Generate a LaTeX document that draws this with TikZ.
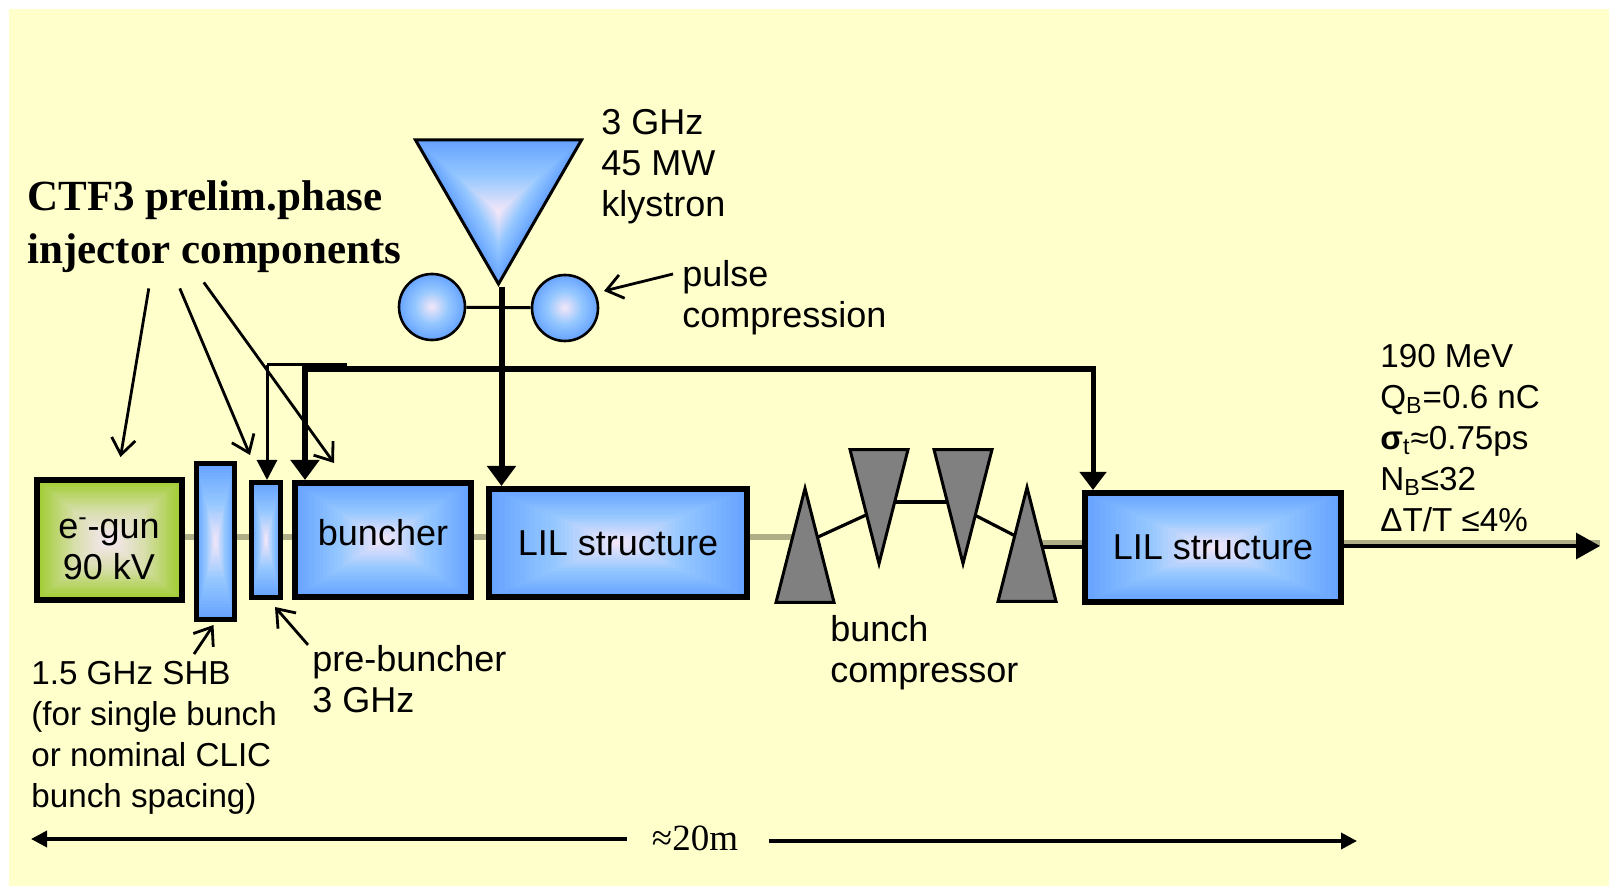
\documentclass[tikz,border=0pt]{standalone}
\usepackage{fontspec}
\setmainfont{Liberation Sans}
\newfontfamily\headfont{Liberation Serif}
\usetikzlibrary{arrows.meta,backgrounds,calc,shapes.geometric}
\definecolor{paper}{RGB}{255,255,204}
\definecolor{boxedge}{RGB}{102,163,255}
\definecolor{boxmid}{RGB}{150,200,255}
\definecolor{boxcentre}{RGB}{248,232,248}
\definecolor{gunedge}{RGB}{160,205,50}
\definecolor{gunmid}{RGB}{215,222,170}
\definecolor{beamtint}{RGB}{175,175,135}
\definecolor{wedge}{RGB}{128,128,128}
\newcommand{\fadefill}[3]{%
	\foreach \t [evaluate=\t as \m using int(2*(\t-50))] in {100,96,...,52} {\colorlet{tone}{#1!\m!#2}#3}%
	\foreach \t [evaluate=\t as \m using int(2*\t)] in {50,47,...,2} {\colorlet{tone}{#2!\m!boxcentre}#3}}
\def\rectlayer{\fill[tone] ($(path picture bounding box.center)!\t*0.01!(path picture bounding box.south west)$) rectangle ($(path picture bounding box.center)!\t*0.01!(path picture bounding box.north east)$);}
\def\trilayer{\fill[tone] ($(path picture bounding box.center)!\t*0.01!(path picture bounding box.north west)$)--($(path picture bounding box.center)!\t*0.01!(path picture bounding box.north east)$)--($(path picture bounding box.center)!\t*0.01!(path picture bounding box.south)$)--cycle;}
\def\circlayer{\fill[tone] (path picture bounding box.center) circle ({\t*0.34});}
\begin{document}
\begin{tikzpicture}[x=0.5pt, y=-0.5pt, line join=miter, font=\fontsize{18}{20.5}\selectfont,
		bluebox/.style={draw, rectangle, inner sep=0pt, path picture={\fadefill{boxedge}{boxmid}{\rectlayer}}},
		greenbox/.style={draw, rectangle, inner sep=0pt, path picture={\fadefill{gunedge}{gunmid}{\rectlayer}}},
		wedgeup/.style={draw, fill=wedge, line width=1.5pt, isosceles triangle, isosceles triangle apex angle=27, isosceles triangle stretches, inner sep=0pt, minimum width=29pt, minimum height=57pt, shape border rotate=90, anchor=apex},
		wedgedown/.style={wedgeup, shape border rotate=270},
		note/.style={anchor=west, align=left, inner sep=0pt},
		beamline/.style={beamtint, line width=3pt},
		wedgeline/.style={line width=1.6pt},
		rfline/.style={line width=3pt, -{Stealth[length=10pt,width=14pt,inset=0pt]}},
		thinfeed/.style={line width=1.5pt, -{Stealth[length=10pt,width=10pt,inset=0pt]}},
		pointer/.style={line width=1.4pt, -{Straight Barb[length=8pt,width=12pt]}},
		span/.style={line width=1.8pt, -{Stealth[length=8pt,width=8pt,inset=0pt]}}]
	\useasboundingbox (0,0) rectangle (1609,886);
	\coordinate (beam) at (0,537);
	\node[greenbox, line width=3pt, minimum width=72.5pt, minimum height=60pt] (gun) at (109.5,540) {};
	\node[bluebox, line width=2.5pt, minimum width=19pt, minimum height=78pt] (shb) at (215.5,541.5) {};
	\node[bluebox, line width=2.5pt, minimum width=14.5pt, minimum height=57.5pt] (prebunch) at (266,540) {};
	\node[bluebox, line width=3pt, minimum width=88pt, minimum height=57pt] (buncher) at (383,540) {};
	\node[bluebox, line width=3pt, minimum width=129pt, minimum height=54pt] (lilone) at (618,543) {LIL structure};
	\node[bluebox, line width=3pt, minimum width=128pt, minimum height=54.5pt] (liltwo) at (1213,547.5) {LIL structure};
	\node (gunlabel) at (109,549) [align=center] {e\textsuperscript{-}-gun\\90 kV};
	\node (bunchlabel) at (383,533) {buncher};
	\node[wedgeup] (wone) at (805,482) {};
	\node[wedgedown] (wtwo) at (879,570) {};
	\node[wedgedown] (wthree) at (963,570) {};
	\node[wedgeup] (wfour) at (1027,481) {};
	\coordinate (wonemid) at ($(wone.apex)!0.5!(wone.lower side)$);
	\coordinate (wtwomid) at ($(wtwo.apex)!0.5!(wtwo.lower side)$);
	\coordinate (wthreemid) at ($(wthree.apex)!0.5!(wthree.lower side)$);
	\coordinate (wfourmid) at ($(wfour.apex)!0.5!(wfour.lower side)$);
	\node[draw, line width=1.5pt, isosceles triangle, isosceles triangle apex angle=60, isosceles triangle stretches, inner sep=0pt, minimum width=83pt, minimum height=72pt, shape border rotate=270, anchor=apex, path picture={\fadefill{boxedge}{boxmid}{\trilayer}}] (klystron) at (498.5,287) {};
	\node[draw, line width=1.3pt, circle, inner sep=0pt, minimum size=33pt, path picture={\fadefill{boxedge}{boxmid}{\circlayer}}] (cavl) at (432,307) {};
	\node[draw, line width=1.3pt, circle, inner sep=0pt, minimum size=33pt, path picture={\fadefill{boxedge}{boxmid}{\circlayer}}] (cavr) at (565,308) {};
	\node[note] (klylabel) at (601,167) {3 GHz\\45 MW\\klystron};
	\node[note] (pulselabel) at (682,298) {pulse\\compression};
	\node[note, font=\fontsize{16.6}{20.5}\selectfont] (beamlabel) at (1380,438) {190 MeV\\Q\textsubscript{B}=0.6 nC\\\textbf{σ}\textsubscript{t}≈0.75ps\\N\textsubscript{B}≤32\\ΔT/T ≤4\%};
	\node[note, font=\fontsize{16.6}{20.5}\selectfont] (shblabel) at (31,738) {1.5 GHz SHB\\(for single bunch\\or nominal CLIC\\bunch spacing)};
	\node[note] (prelabel) at (312,679) {pre-buncher\\3 GHz};
	\node[note] (complabel) at (830,653) {bunch\\compressor};
	\node[note, font=\headfont\bfseries\fontsize{21.5}{26.5}\selectfont] (ctf) at (27,227) {CTF3 prelim.phase\\injector components};
	\node (length) at (695,838) [font=\headfont\fontsize{18.5}{20}\selectfont] {≈20m};
	\coordinate (outend) at (1600,546);
	\coordinate (spanl) at (31,839);
	\coordinate (spanr) at (1357,841);
	\coordinate (rfjoin) at (305,369);
	\coordinate (rfcorner) at (1093,369);
	\coordinate (thinjoin) at (267,365);
	\begin{pgfonlayer}{background}
		\fill[white] (0,0) rectangle (1609,886);
		\fill[paper] (9,9) rectangle (1609,886);
		\foreach \a/\b in {gun/shb,shb/prebunch,prebunch/buncher,buncher/lilone}
			\draw[beamline] (\a.east |- beam)--(\b.west |- beam);
		\draw[beamline] (lilone.east |- beam)--(wonemid |- beam);
		\draw[wedgeline] (wonemid)--(wtwomid);
		\draw[wedgeline] ([yshift=3.5pt]wtwomid)--([yshift=3.5pt]wthreemid);
		\draw[wedgeline] (wthreemid)--(wfourmid);
		\draw[beamline] ([yshift=-0.5pt]wfourmid)--([yshift=-0.5pt]wfourmid -| liltwo.west);
		\draw[wedgeline] ([yshift=-2.5pt]wfourmid)--([yshift=-2.5pt]wfourmid -| liltwo.west);
		\draw[line width=1.5pt] (cavl)--(cavr);
		\draw[beamline] ([yshift=1.5pt]liltwo.east |- outend)--([yshift=1.5pt]outend);
	\end{pgfonlayer}
	\draw[line width=1.6pt, -{Stealth[length=12pt,width=13pt,inset=0pt]}] (liltwo.east |- outend)--(outend);
	\draw[rfline] ([xshift=1.5pt]klystron.apex)--([xshift=1.5pt]klystron.apex |- lilone.north);
	\draw[rfline] (rfjoin)--(rfjoin |- buncher.north);
	\draw[line width=3pt] ([xshift=-1.5pt]rfjoin)--(rfcorner);
	\draw[line width=2.5pt, -{Stealth[length=9pt,width=13pt,inset=0pt]}] ([yshift=1.5pt]rfcorner)--(rfcorner |- liltwo.north);
	\draw[line width=1.5pt] (thinjoin)--(347,365);
	\draw[thinfeed] (thinjoin)--(thinjoin |- prebunch.north);
	\draw[pointer] ([shift={(-65.5,15)}]ctf.south)--([shift={(11,-20)}]gun.north);
	\draw[pointer] ([shift={(-34.5,15)}]ctf.south)--([shift={(-16,-25)}]prebunch.north);
	\draw[pointer] ([shift={(-10.5,9)}]ctf.south)--([shift={(-49,-17)}]buncher.north);
	\draw[pointer] ([shift={(163,-7)}]shblabel.north west)--([shift={(-2,3)}]shb.south);
	\draw[pointer] ([shift={(-9,-24)}]pulselabel.west)--([shift={(39,-17)}]cavr.center);
	\draw[pointer] ([xshift=-2pt]prelabel.north west)--([shift={(9,7)}]prebunch.south);
	\draw[span] ([xshift=-9pt,yshift=-0.5pt]length.west)--(spanl);
	\draw[span] ([xshift=12pt,yshift=-1.5pt]length.east)--(spanr);
\end{tikzpicture}
\end{document}
